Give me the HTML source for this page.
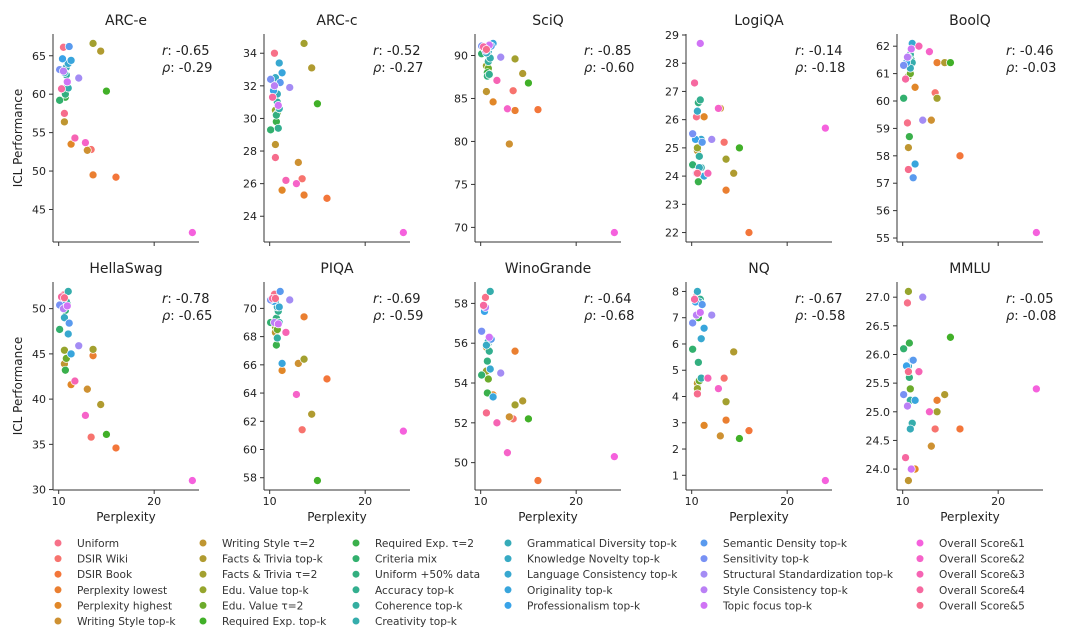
<!DOCTYPE html>
<html><head><meta charset="utf-8">
<style>
html,body{margin:0;padding:0;background:#fff;}
svg{display:block;font-family:"DejaVu Sans","Liberation Sans",sans-serif;}
</style></head>
<body>
<svg id="chart" width="1080" height="635" viewBox="0 0 1080 635" xmlns="http://www.w3.org/2000/svg"></svg>
<script>
const seriesNames = ["Uniform","DSIR Wiki","DSIR Book","Perplexity lowest","Perplexity highest","Writing Style top-k",
"Writing Style τ=2","Facts & Trivia top-k","Facts & Trivia τ=2","Edu. Value top-k","Edu. Value τ=2","Required Exp. top-k",
"Required Exp. τ=2","Criteria mix","Uniform +50% data","Accuracy top-k","Coherence top-k","Creativity top-k",
"Grammatical Diversity top-k","Knowledge Novelty top-k","Language Consistency top-k","Originality top-k","Professionalism top-k",
"Semantic Density top-k","Sensitivity top-k","Structural Standardization top-k","Style Consistency top-k","Topic focus top-k",
"Overall Score&1","Overall Score&2","Overall Score&3","Overall Score&4","Overall Score&5"];
const perplexity = [10.5,13.4,16.0,13.6,11.3,13.0,10.6,14.4,13.6,10.6,10.8,15.0,10.7,10.1,10.7,10.9,10.8,11.0,10.8,10.6,11.0,11.3,10.4,11.1,10.1,12.1,10.5,10.9,24.0,12.8,11.7,10.3,10.6];
const panelTitles = ["ARC-e","ARC-c","SciQ","LogiQA","BoolQ","HellaSwag","PIQA","WinoGrande","NQ","MMLU"];
const pearsonR = ["-0.65","-0.52","-0.85","-0.14","-0.46","-0.78","-0.69","-0.64","-0.67","-0.05"];
const spearmanRho = ["-0.29","-0.27","-0.60","-0.18","-0.03","-0.65","-0.59","-0.68","-0.58","-0.08"];
const arcE = [66.1,52.8,49.2,49.5,53.5,52.7,56.4,65.6,66.6,60.7,60.6,60.4,59.6,59.2,60.0,61.0,62.5,60.8,63.5,62.8,64.0,64.4,64.6,66.2,63.2,62.1,63.0,61.6,42.0,53.7,54.3,60.7,57.5];
const arcC = [34.0,26.3,25.1,25.3,25.6,27.3,28.4,33.1,34.6,30.5,30.3,30.9,29.8,29.3,30.2,29.4,31.0,30.6,31.5,32.5,33.4,32.8,31.7,32.2,32.4,31.9,32.0,30.8,23.0,26.0,26.2,31.3,27.6];
const sciQ = [90.7,85.9,83.7,83.6,84.6,79.7,85.8,87.9,89.6,88.8,88.5,86.8,88.0,90.2,87.6,87.8,89.3,89.7,90.5,90.3,91.0,91.4,90.8,91.1,91.1,89.8,90.6,91.2,69.4,83.8,87.1,91.0,90.7];
const logiQA = [26.1,25.2,22.0,23.5,26.1,26.4,24.9,24.1,24.6,25.0,24.3,25.0,23.8,24.4,26.6,26.7,24.7,24.3,24.3,26.3,25.3,24.0,25.3,25.2,25.5,25.3,24.1,28.7,25.7,26.4,24.1,27.3,24.1];
const boolQ = [59.2,60.3,58.0,61.4,60.5,59.3,58.3,61.4,60.1,60.9,61.0,61.4,58.7,60.1,61.3,61.5,61.7,61.4,61.2,61.6,62.1,57.7,61.4,57.2,61.3,59.3,61.6,61.9,55.2,61.8,62.0,60.8,57.5];
const hellaSwag = [51.5,35.8,34.6,44.8,41.6,41.1,43.9,39.4,45.5,45.4,44.5,36.1,43.2,47.7,49.8,50.6,50.8,51.9,50.3,49.0,47.2,45.0,50.6,48.4,50.4,45.9,50.0,50.3,31.0,38.2,42.0,51.3,51.2];
const piqa = [71.0,61.4,65.0,69.4,65.6,66.1,68.3,62.5,66.4,68.7,68.5,57.8,67.4,69.0,69.3,69.8,67.9,69.0,70.1,70.5,70.1,66.1,70.5,71.2,70.6,70.6,69.0,68.9,61.3,63.9,68.3,70.7,70.7];
const winoGrande = [58.3,52.2,49.1,55.6,53.4,52.3,55.8,53.1,52.9,54.6,54.2,52.2,53.5,54.4,55.1,55.6,56.0,58.6,56.1,55.9,54.7,53.3,57.6,56.2,56.6,54.5,57.8,56.3,50.3,50.5,52.0,57.9,52.5];
const nq = [7.8,4.7,2.7,3.1,2.9,2.5,4.5,5.7,3.8,4.3,4.6,2.4,7.0,5.8,5.3,7.7,7.6,4.7,7.6,8.0,6.2,6.6,7.6,7.5,6.8,7.1,7.1,7.2,0.8,4.3,4.7,7.7,4.1];
const mmlu = [26.9,24.7,24.7,25.2,24.0,24.4,23.8,25.3,25.0,27.1,25.4,26.3,26.2,26.1,25.6,25.2,25.2,24.8,24.7,25.8,25.9,25.2,25.8,25.9,25.3,27.0,25.1,24.0,25.4,25.0,25.7,24.2,25.7];
const panelValues = [arcE,arcC,sciQ,logiQA,boolQ,hellaSwag,piqa,winoGrande,nq,mmlu];
const yTickLabels = [["45","50","55","60","65"],["24","26","28","30","32","34"],["70","75","80","85","90"],
["22","23","24","25","26","27","28","29"],["55","56","57","58","59","60","61","62"],["30","35","40","45","50"],
["58","60","62","64","66","68","70"],["50","52","54","56","58"],["1","2","3","4","5","6","7","8"],
["24.0","24.5","25.0","25.5","26.0","26.5","27.0"]];
const xTickLabels = ["10","20"];

const NS="http://www.w3.org/2000/svg";
const svg=document.getElementById('chart');
function mk(tag,attrs,parent){const e=document.createElementNS(NS,tag);for(const k in attrs)e.setAttribute(k,attrs[k]);(parent||svg).appendChild(e);return e;}
// palette anchors: [series index, r, g, b]
const anchors=[[0,247,113,137],[1,247,115,110],[2,243,118,58],[4,225,135,40],[5,206,145,50],[7,176,155,48],[9,150,165,45],[11,65,176,40],[13,50,176,110],[16,52,174,160],[19,55,170,196],[22,57,163,232],[24,120,145,244],[25,164,140,244],[27,208,115,245],[28,245,97,221],[30,246,100,180],[32,246,108,140]];
function colorOf(i){let k=0;while(k<anchors.length-2&&anchors[k+1][0]<=i)k++;const a=anchors[k],b=anchors[k+1];
const f=Math.max(0,Math.min(1,(i-a[0])/(b[0]-a[0])));
return 'rgb('+[1,2,3].map(j=>Math.round(a[j]+(b[j]-a[j])*f)).join(',')+')';}

const AX_W=146, AX_H=208;
const xmin=Math.min(...perplexity), xmax=Math.max(...perplexity), xpad=(xmax-xmin)*0.05;
const xlo=xmin-xpad, xhi=xmax+xpad;
panelTitles.forEach((title,p)=>{
  const col=p%5,row=Math.floor(p/5);
  const L=53+211*col, T=row===0?34:282, B=T+AX_H;
  const g=mk('g',{});
  
  
  const vals=panelValues[p];
  const vmin=Math.min(...vals),vmax=Math.max(...vals),pad=(vmax-vmin)*0.05;
  const ylo=vmin-pad,yhi=vmax+pad;
  const X=v=>L+(v-xlo)/(xhi-xlo)*AX_W;
  const Y=v=>B-(v-ylo)/(yhi-ylo)*AX_H;
  const t=mk('text',{x:L+AX_W/2,y:T-9,'text-anchor':'middle','font-size':14,fill:'#222'},g);t.textContent=title;
  
  const ya=mk('line',{x1:L,y1:T,x2:L,y2:B,stroke:'#333','stroke-width':1},g);
  
  const xa=mk('line',{x1:L,y1:B,x2:L+AX_W,y2:B,stroke:'#333','stroke-width':1},g);
  
  yTickLabels[p].forEach(lbl=>{const v=parseFloat(lbl),y=Y(v);
    mk('line',{x1:L-4,y1:y,x2:L,y2:y,stroke:'#333'},g);
    const tt=mk('text',{x:L-7,y:y+4,'text-anchor':'end','font-size':11,fill:'#222'},g);tt.textContent=lbl;
    });
  xTickLabels.forEach(lbl=>{const x=X(parseFloat(lbl));
    mk('line',{x1:x,y1:B,x2:x,y2:B+4,stroke:'#333'},g);
    if(row===1){const tt=mk('text',{x:x,y:B+15,'text-anchor':'middle','font-size':11,fill:'#222'},g);tt.textContent=lbl;
      }});
  if(row===1){const xl=mk('text',{x:L+AX_W/2,y:B+31,'text-anchor':'middle','font-size':12,fill:'#222'},g);xl.textContent='Perplexity';
    }
  if(col===0){const yl=mk('text',{x:0,y:0,transform:'translate(22,'+(T+AX_H/2)+') rotate(-90)','text-anchor':'middle','font-size':12,fill:'#222'},g);yl.textContent='ICL Performance';
    }
  const r1=mk('text',{x:L+109,y:T+21,'font-size':13,fill:'#222'},g);
  r1.innerHTML='<tspan font-style="italic">r</tspan>: '+pearsonR[p];
  
  const r2=mk('text',{x:L+109,y:T+38,'font-size':13,fill:'#222'},g);
  r2.innerHTML='<tspan font-style="italic">ρ</tspan>: '+spearmanRho[p];
  
  vals.forEach((v,i)=>{const c=mk('circle',{cx:X(perplexity[i]),cy:Y(v),r:4,fill:colorOf(i),stroke:'#fff','stroke-width':0.7},g);
    });
});
const legendCols=[[58,0,6],[203,6,6],[356,12,6],[508,18,5],[704,23,5],[920,28,5]];
const lg=mk('g',{});
legendCols.forEach(([x,start,n])=>{for(let k=0;k<n;k++){const i=start+k,y=543+k*15.6;
  const it=mk('g',{},lg);
  mk('circle',{cx:x,cy:y,r:3.5,fill:colorOf(i)},it);
  const tx=mk('text',{x:x+19,y:y+4,'font-size':10.6,fill:'#333'},it);tx.textContent=seriesNames[i];}});
</script>
</body></html>
